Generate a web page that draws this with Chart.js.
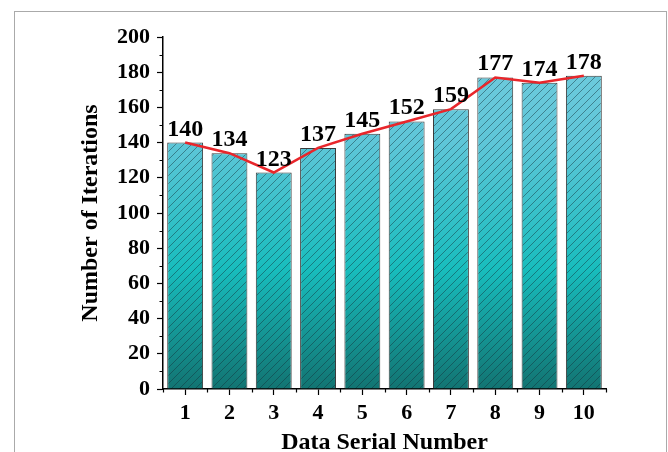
<!DOCTYPE html>
<html>
<head>
<meta charset="utf-8">
<script src="https://cdn.jsdelivr.net/npm/chart.js@4"></script>
<style>
  body { margin: 0; background: #fff; overflow: hidden; }
  #wrap { position: relative; width: 668px; height: 470px; }
  #frame { position: absolute; left: 14px; top: 11px; width: 651px; height: 500px; border: 1px solid #aaa; }
  #chart { position: absolute; left: 0; top: 0; }
</style>
</head>
<body>
<div id="wrap">
  <div id="frame"></div>
  <canvas id="chart" width="668" height="470"></canvas>
</div>
<script>
// data
const serials = ["1", "2", "3", "4", "5", "6", "7", "8", "9", "10"];
const iterations = [140, 134, 123, 137, 145, 152, 159, 177, 174, 178];
const yTicks = [0, 20, 40, 60, 80, 100, 120, 140, 160, 180, 200];

const FONT = "'Liberation Serif', 'Times New Roman', serif";

// gradient + hatch, built once the chart area is known
let fillCache = null;
const barFill = (context) => {
  const chart = context.chart;
  const area = chart.chartArea;
  if (!area) return "#40c0cc";
  const key = area.top + "_" + area.bottom + "_" + chart.width;
  if (fillCache && fillCache.key === key) return fillCache.pattern;

  const off = document.createElement("canvas");
  off.width = chart.width;
  off.height = chart.height;
  const c = off.getContext("2d");
  const g = c.createLinearGradient(0, area.top, 0, area.bottom);
  g.addColorStop(0, "#74ccde");
  g.addColorStop(0.3, "#5ec6d8");
  g.addColorStop(0.66, "#18bdbd");
  g.addColorStop(1, "#127472");
  c.fillStyle = g;
  c.fillRect(0, 0, off.width, off.height);

  c.strokeStyle = "rgba(20, 50, 60, 0.6)";
  c.lineWidth = 0.8;
  c.beginPath();
  for (let x = -off.height; x < off.width; x += 8) {
    c.moveTo(x, off.height);
    c.lineTo(x + off.height, 0);
  }
  c.stroke();

  const pattern = chart.ctx.createPattern(off, "no-repeat");
  fillCache = { key, pattern };
  return pattern;
};

// value labels above the bars
const valueLabels = {
  id: "valueLabels",
  afterDatasetsDraw(chart) {
    const ctx = chart.ctx;
    const meta = chart.getDatasetMeta(0);
    ctx.save();
    ctx.font = `bold 24px ${FONT}`;
    ctx.fillStyle = "#000";
    ctx.textAlign = "center";
    ctx.textBaseline = "alphabetic";
    meta.data.forEach((bar, i) => {
      ctx.fillText(String(iterations[i]), bar.x, bar.y - 7);
    });
    ctx.restore();
  },
};

// minor ticks (Origin style)
const minorTicks = {
  id: "minorTicks",
  afterDraw(chart) {
    const { ctx, chartArea } = chart;
    const xs = chart.scales.x;
    const ys = chart.scales.y;
    ctx.save();
    ctx.strokeStyle = "#000";
    ctx.lineWidth = 1.2;
    ctx.beginPath();
    for (let i = 0; i < yTicks.length - 1; i++) {
      const v = (yTicks[i] + yTicks[i + 1]) / 2;
      const y = Math.round(ys.getPixelForValue(v)) + 0.5;
      ctx.moveTo(chartArea.left - 3.5, y);
      ctx.lineTo(chartArea.left, y);
    }
    for (let i = 0; i <= serials.length; i++) {
      const x = Math.round(xs.getPixelForValue(i - 0.5)) + 0.5;
      ctx.moveTo(x, chartArea.bottom);
      ctx.lineTo(x, chartArea.bottom + 3.5);
    }
    ctx.stroke();
    ctx.restore();
  },
};

const axisCommon = {
  grid: {
    display: true,
    drawOnChartArea: false,
    drawTicks: true,
    tickLength: 6,
    tickColor: "#000",
    tickWidth: 1.2,
    offset: false,
  },
  border: { display: true, color: "#000", width: 1.5 },
};

new Chart(document.getElementById("chart"), {
  type: "bar",
  data: {
    labels: serials,
    datasets: [
      {
        type: "bar",
        data: iterations,
        backgroundColor: barFill,
        borderColor: "#3a3a3a",
        borderWidth: 1,
        categoryPercentage: 1,
        barPercentage: 0.81,
        order: 1,
      },
      {
        type: "line",
        data: iterations,
        borderColor: "#e8262b",
        borderWidth: 2.6,
        pointRadius: 0,
        tension: 0,
        fill: false,
        order: 0,
      },
    ],
  },
  options: {
    responsive: false,
    animation: false,
    layout: { padding: { top: 37, right: 62, bottom: 0, left: 66 } },
    plugins: {
      legend: { display: false },
      tooltip: { enabled: false },
    },
    scales: {
      x: {
        ...axisCommon,
        offset: true,
        ticks: {
          color: "#000",
          font: { family: FONT, size: 22, weight: "bold" },
          padding: 5,
          maxRotation: 0,
        },
        title: {
          display: true,
          text: "Data Serial Number",
          color: "#000",
          font: { family: FONT, size: 24, weight: "bold" },
          padding: { top: 0, bottom: 13 },
        },
        afterFit: (scale) => {
          scale.height = 81;
        },
      },
      y: {
        ...axisCommon,
        min: 0,
        max: 200,
        afterBuildTicks: (scale) => {
          scale.ticks = yTicks.map((v) => ({ value: v }));
        },
        ticks: {
          color: "#000",
          font: { family: FONT, size: 22, weight: "bold" },
          padding: 7,
        },
        title: {
          display: true,
          text: "Number of Iterations",
          color: "#000",
          font: { family: FONT, size: 24, weight: "bold" },
          padding: { top: 10, bottom: 0 },
        },
        afterFit: (scale) => {
          scale.width = 97;
        },
      },
    },
  },
  plugins: [valueLabels, minorTicks],
});
</script>
</body>
</html>
